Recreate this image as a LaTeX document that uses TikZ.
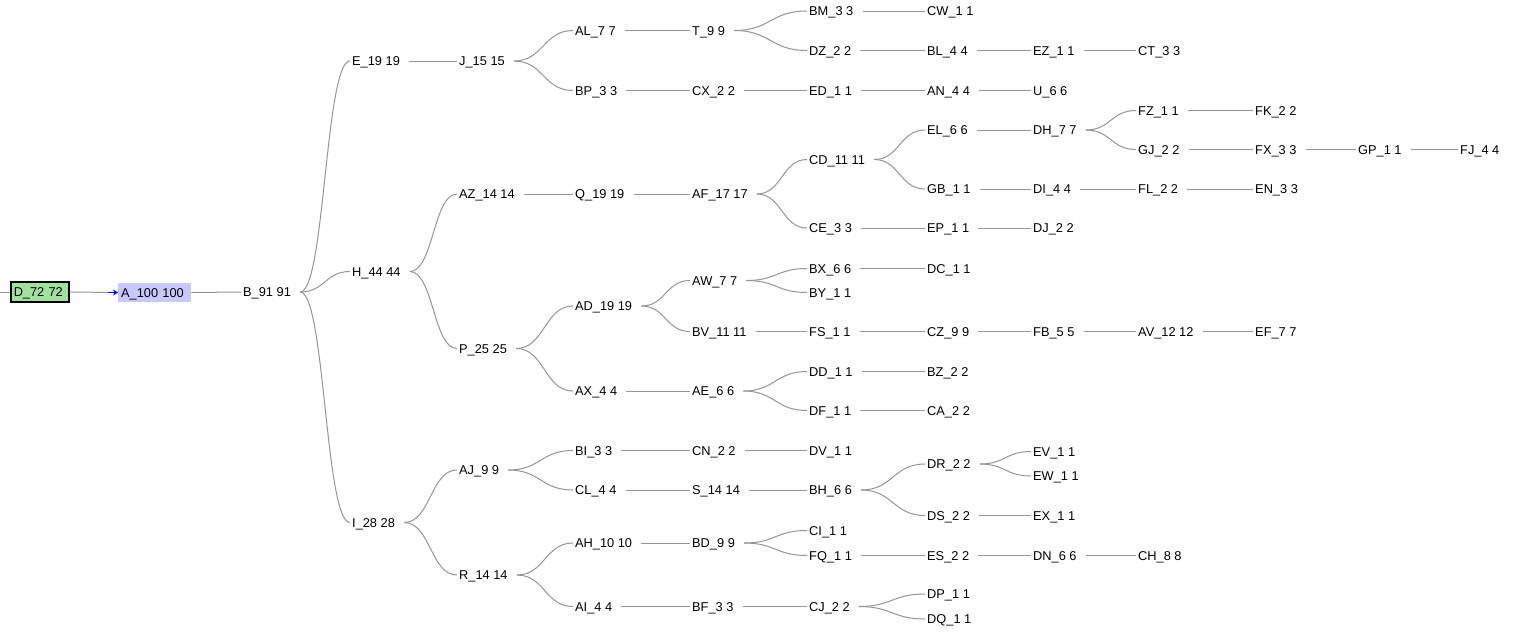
\documentclass[tikz,border=0pt]{standalone}
\usepackage{fontspec}
\setmainfont{Liberation Sans}
\usetikzlibrary{calc,arrows.meta}

\definecolor{linkgray}{RGB}{150,150,150}
\definecolor{rootgreen}{RGB}{160,225,160}
\definecolor{selblue}{RGB}{200,200,255}

\tikzset{
  lab/.style={anchor=west, inner xsep=2pt, inner ysep=0pt, text height=9pt, text depth=0pt,
              font=\fontsize{12.8}{14}\selectfont},
  lnk/.style={draw=linkgray, line width=1pt},
}

% curved horizontal link from the right end of #1 to the left end of #2
\newcommand\lk[2]{%
  \draw[lnk] let \p1=([xshift=7pt]#1.east), \p2=(#2.west) in
    (\p1) .. controls ({(\x1+\x2)/2},\y1) and ({(\x1+\x2)/2},\y2) .. (\p2);}

\begin{document}
\begin{tikzpicture}[x=1pt,y=-1pt]
\useasboundingbox[fill=white] (0,0) rectangle (1518,633);

% root and selected node
\coordinate (lft) at (0,292);
\node[lab, draw=black, line width=1.5pt, fill=rootgreen, anchor=west, inner xsep=3pt,
      text width=52pt, minimum height=20pt, align=left] (D) at (10,292) {D\_72 72};
\node[lab, fill=selblue, anchor=west, inner xsep=3pt, text width=67pt,
      minimum height=19pt, align=left] (A) at (118,292.5) {A\_100 100};
\draw[lnk] (lft) -- (D.west);
\draw[lnk] (D.east) -- (A.west);
\draw[blue, line width=1.5pt, -{Stealth[length=5pt,width=6pt]}] ([xshift=-10pt]A.west) -- (A.west);

% tree nodes
\node[lab] (B) at (241,292) {B\_91 91};

\node[lab] (E) at (350,61) {E\_19 19};
\node[lab] (H) at (350,271.5) {H\_44 44};
\node[lab] (I) at (350,522.5) {I\_28 28};

\node[lab] (J) at (457,61) {J\_15 15};
\node[lab] (AZ) at (457,194) {AZ\_14 14};
\node[lab] (P) at (457,348.5) {P\_25 25};
\node[lab] (AJ) at (457,470) {AJ\_9 9};
\node[lab] (R) at (457,575) {R\_14 14};

\node[lab] (AL) at (573,30.5) {AL\_7 7};
\node[lab] (BP) at (573,90.5) {BP\_3 3};
\node[lab] (Q) at (573,194) {Q\_19 19};
\node[lab] (AD) at (573,306) {AD\_19 19};
\node[lab] (AX) at (573,391) {AX\_4 4};
\node[lab] (BI) at (573,450.5) {BI\_3 3};
\node[lab] (CL) at (573,490) {CL\_4 4};
\node[lab] (AH) at (573,543) {AH\_10 10};
\node[lab] (AI) at (573,606.5) {AI\_4 4};

\node[lab] (T) at (690,30.5) {T\_9 9};
\node[lab] (CX) at (690,90.5) {CX\_2 2};
\node[lab] (AF) at (690,194) {AF\_17 17};
\node[lab] (AW) at (690,280.5) {AW\_7 7};
\node[lab] (BV) at (690,331.5) {BV\_11 11};
\node[lab] (AE) at (690,391) {AE\_6 6};
\node[lab] (CN) at (690,450.5) {CN\_2 2};
\node[lab] (S) at (690,490) {S\_14 14};
\node[lab] (BD) at (690,543) {BD\_9 9};
\node[lab] (BF) at (690,606.5) {BF\_3 3};

\node[lab] (BM) at (807,11) {BM\_3 3};
\node[lab] (DZ) at (807,50.5) {DZ\_2 2};
\node[lab] (ED) at (807,90.5) {ED\_1 1};
\node[lab] (CD) at (807,159.5) {CD\_11 11};
\node[lab] (CE) at (807,228) {CE\_3 3};
\node[lab] (BX) at (807,268.5) {BX\_6 6};
\node[lab] (BY) at (807,292.5) {BY\_1 1};
\node[lab] (FS) at (807,331.5) {FS\_1 1};
\node[lab] (DD) at (807,371.5) {DD\_1 1};
\node[lab] (DF) at (807,410.5) {DF\_1 1};
\node[lab] (DV) at (807,450.5) {DV\_1 1};
\node[lab] (BH) at (807,490) {BH\_6 6};
\node[lab] (CI) at (807,530.5) {CI\_1 1};
\node[lab] (FQ) at (807,555.5) {FQ\_1 1};
\node[lab] (CJ) at (807,606.5) {CJ\_2 2};

\node[lab] (CW) at (925,11) {CW\_1 1};
\node[lab] (BL) at (925,50.5) {BL\_4 4};
\node[lab] (AN) at (925,90.5) {AN\_4 4};
\node[lab] (EL) at (925,130) {EL\_6 6};
\node[lab] (GB) at (925,189) {GB\_1 1};
\node[lab] (EP) at (925,228) {EP\_1 1};
\node[lab] (DC) at (925,268.5) {DC\_1 1};
\node[lab] (CZ) at (925,331.5) {CZ\_9 9};
\node[lab] (BZ) at (925,371.5) {BZ\_2 2};
\node[lab] (CA) at (925,410.5) {CA\_2 2};
\node[lab] (DR) at (925,464) {DR\_2 2};
\node[lab] (DS) at (925,515.5) {DS\_2 2};
\node[lab] (ES) at (925,555.5) {ES\_2 2};
\node[lab] (DP) at (925,594) {DP\_1 1};
\node[lab] (DQ) at (925,619) {DQ\_1 1};

\node[lab] (EZ) at (1031,50.5) {EZ\_1 1};
\node[lab] (U) at (1031,90.5) {U\_6 6};
\node[lab] (DH) at (1031,130) {DH\_7 7};
\node[lab] (DI) at (1031,189) {DI\_4 4};
\node[lab] (DJ) at (1031,228) {DJ\_2 2};
\node[lab] (FB) at (1031,331.5) {FB\_5 5};
\node[lab] (EV) at (1031,451.5) {EV\_1 1};
\node[lab] (EW) at (1031,476) {EW\_1 1};
\node[lab] (EX) at (1031,515.5) {EX\_1 1};
\node[lab] (DN) at (1031,555.5) {DN\_6 6};

\node[lab] (CT) at (1136,50.5) {CT\_3 3};
\node[lab] (FZ) at (1136,110.5) {FZ\_1 1};
\node[lab] (GJ) at (1136,149.5) {GJ\_2 2};
\node[lab] (FL) at (1136,189) {FL\_2 2};
\node[lab] (AV) at (1136,331.5) {AV\_12 12};
\node[lab] (CH) at (1136,555.5) {CH\_8 8};

\node[lab] (FK) at (1253,110.5) {FK\_2 2};
\node[lab] (FX) at (1253,149.5) {FX\_3 3};
\node[lab] (EN) at (1253,189) {EN\_3 3};
\node[lab] (EF) at (1253,331.5) {EF\_7 7};

\node[lab] (GP) at (1356,149.5) {GP\_1 1};
\node[lab] (FJ) at (1458,149.5) {FJ\_4 4};

% links
\draw[lnk] (A.east) -- (B.west);
\lk{B}{E} \lk{B}{H} \lk{B}{I}
\lk{E}{J} \lk{J}{AL} \lk{J}{BP}
\lk{AL}{T} \lk{T}{BM} \lk{T}{DZ} \lk{BM}{CW}
\lk{DZ}{BL} \lk{BL}{EZ} \lk{EZ}{CT}
\lk{BP}{CX} \lk{CX}{ED} \lk{ED}{AN} \lk{AN}{U}
\lk{H}{AZ} \lk{H}{P}
\lk{AZ}{Q} \lk{Q}{AF} \lk{AF}{CD} \lk{AF}{CE}
\lk{CD}{EL} \lk{CD}{GB}
\lk{EL}{DH} \lk{DH}{FZ} \lk{DH}{GJ} \lk{FZ}{FK}
\lk{GJ}{FX} \lk{FX}{GP} \lk{GP}{FJ}
\lk{GB}{DI} \lk{DI}{FL} \lk{FL}{EN}
\lk{CE}{EP} \lk{EP}{DJ}
\lk{P}{AD} \lk{P}{AX}
\lk{AD}{AW} \lk{AD}{BV}
\lk{AW}{BX} \lk{AW}{BY} \lk{BX}{DC}
\lk{BV}{FS} \lk{FS}{CZ} \lk{CZ}{FB} \lk{FB}{AV} \lk{AV}{EF}
\lk{AX}{AE} \lk{AE}{DD} \lk{AE}{DF} \lk{DD}{BZ} \lk{DF}{CA}
\lk{I}{AJ} \lk{I}{R}
\lk{AJ}{BI} \lk{AJ}{CL}
\lk{BI}{CN} \lk{CN}{DV}
\lk{CL}{S} \lk{S}{BH} \lk{BH}{DR} \lk{BH}{DS}
\lk{DR}{EV} \lk{DR}{EW} \lk{DS}{EX}
\lk{R}{AH} \lk{R}{AI}
\lk{AH}{BD} \lk{BD}{CI} \lk{BD}{FQ}
\lk{FQ}{ES} \lk{ES}{DN} \lk{DN}{CH}
\lk{AI}{BF} \lk{BF}{CJ} \lk{CJ}{DP} \lk{CJ}{DQ}
\end{tikzpicture}
\end{document}
